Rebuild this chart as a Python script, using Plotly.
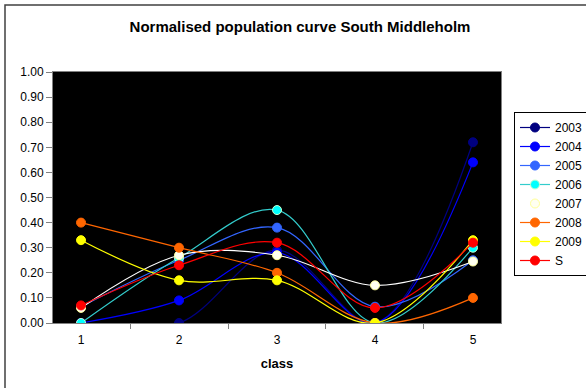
import plotly.graph_objects as go

# Size classes on the x axis
classes = ["1", "2", "3", "4", "5"]

# Normalised population per class, one list per survey year
y2003 = [0.00, 0.00, 0.29, 0.00, 0.72]
y2004 = [0.00, 0.09, 0.28, 0.00, 0.64]
y2005 = [0.065, 0.25, 0.38, 0.065, 0.25]
y2006 = [0.00, 0.26, 0.45, 0.00, 0.30]
y2007 = [0.06, 0.27, 0.27, 0.15, 0.245]
y2008 = [0.40, 0.30, 0.20, 0.00, 0.10]
y2009 = [0.33, 0.17, 0.17, 0.00, 0.33]
ys = [0.07, 0.23, 0.32, 0.06, 0.32]

series_names = ["2003", "2004", "2005", "2006", "2007", "2008", "2009", "S"]
series_values = [y2003, y2004, y2005, y2006, y2007, y2008, y2009, ys]

line_colors = ["#000080", "#0000FF", "#3366FF", "#33CCCC", "#FFFFFF", "#FF6600", "#FFFF00", "#FF0000"]
marker_colors = ["#000080", "#0000FF", "#3366FF", "#00FFFF", "#FFFFF0", "#FF6600", "#FFFF00", "#FF0000"]
marker_edges = ["#000080", "#0000FF", "#3366FF", "#CCFFCC", "#FFFF99", "#FF6600", "#FFFF00", "#FF0000"]

fig = go.Figure()
for name, vals, lc, mc, me in zip(series_names, series_values, line_colors, marker_colors, marker_edges):
    fig.add_trace(go.Scatter(
        x=classes, y=vals, name=name,
        mode="lines+markers",
        line=dict(color=lc, width=1.2, shape="spline", smoothing=1),
        marker=dict(color=mc, size=9, line=dict(color=me, width=1)),
    ))

font_family = "Liberation Sans, Arial, sans-serif"

fig.update_layout(
    width=586, height=388,
    margin=dict(l=53, r=85, t=72, b=65, autoexpand=False),
    paper_bgcolor="white",
    plot_bgcolor="black",
    font=dict(family=font_family, size=12, color="black"),
    title=dict(
        text="<b>Normalised population curve South Middleholm</b>",
        x=300 / 586, xref="container", xanchor="center",
        y=1 - 27 / 388, yref="container", yanchor="middle",
        font=dict(size=15, color="black"),
    ),
    showlegend=True,
    legend=dict(
        x=(514 - 53) / 448, xanchor="left",
        y=(323 - 112) / 251, yanchor="top",
        bordercolor="#000000", borderwidth=1,
        bgcolor="white",
        font=dict(size=12, color="black"),
        tracegroupgap=0,
        itemwidth=30,
    ),
    xaxis=dict(
        type="category",
        tickson="boundaries",
        ticks="outside", ticklen=5, tickcolor="#808080",
        showline=True, linecolor="#808080", linewidth=1, mirror=True,
        showgrid=False, zeroline=False,
        ticklabelstandoff=6,
        title=dict(text="<b>class</b>", font=dict(size=13), standoff=12),
        tickfont=dict(size=12),
    ),
    yaxis=dict(
        range=[0, 1],
        dtick=0.1, tick0=0, tickformat=".2f",
        ticks="outside", ticklen=6, tickcolor="#808080",
        showline=True, linecolor="#808080", linewidth=1, mirror=True,
        showgrid=False, zeroline=False,
        tickfont=dict(size=12),
    ),
    shapes=[dict(
        type="rect", xref="paper", yref="paper",
        x0=(5 - 53) / 448, x1=(595 - 53) / 448,
        y0=(323 - 395) / 251, y1=(323 - 5) / 251,
        line=dict(color="#404040", width=1.5),
        fillcolor="rgba(0,0,0,0)", layer="below",
    )],
)

fig.write_html("out.html")
